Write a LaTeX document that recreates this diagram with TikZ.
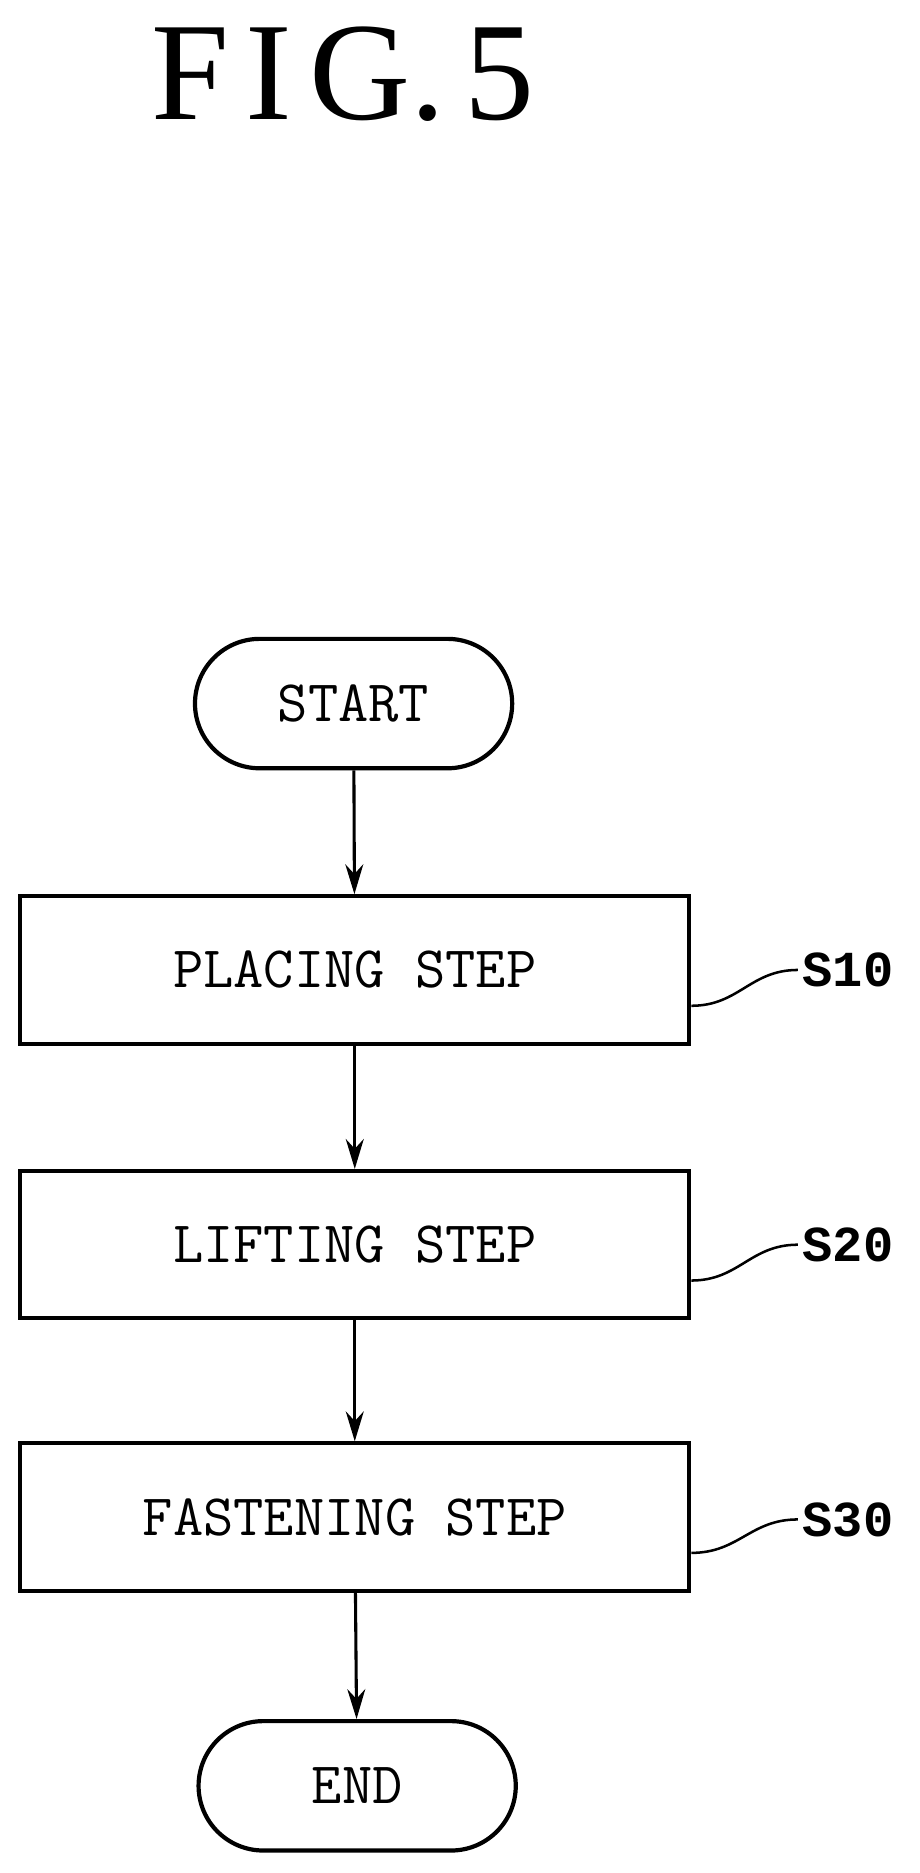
\documentclass[tikz,border=0pt]{standalone}
\usepackage{fontspec}
\setmainfont{Liberation Serif}
\newfontfamily\tagfont{Liberation Mono}
\usetikzlibrary{shapes.misc,arrows.meta}
\begin{document}
\begin{tikzpicture}[x=0.03cm,y=-0.03cm,
   stepbox/.style={rectangle,draw,line width=3pt,minimum width=16.8cm,
    minimum height=3.7cm,font=\ttfamily\fontsize{42}{46}\selectfont},
   term/.style={rounded rectangle,draw,line width=3pt,minimum width=8.2cm,
    minimum height=3.25cm,font=\ttfamily\fontsize{42}{46}\selectfont},
   tag/.style={font=\tagfont\bfseries\fontsize{36}{40}\selectfont},
   flow/.style={-{Stealth[length=0.75cm,width=0.45cm]},line width=2.2pt}
    ]
    \useasboundingbox (0,0) rectangle (770,1568);

    % Title:
    \node at (287,62) (title) {\fontsize{100}{110}\selectfont F\kern12pt I\kern12pt G.\kern14pt 5};

    % Nodes:
    \node[term] at (296,589) (start) {START};
    \node[stepbox] at (297,812) (s10) {PLACING STEP};
    \node[stepbox] at (297,1042) (s20) {LIFTING STEP};
    \node[stepbox] at (297,1270) (s30) {FASTENING STEP};
    \node[term] at (299,1495) (end) {END};

    % Labels:
    \node[tag] at (710,812) (l10) {S10};
    \node[tag] at (710,1042) (l20) {S20};
    \node[tag] at (710,1272) (l30) {S30};

    % Arrows:
    \draw[flow] (start) -- (s10);
    \draw[flow] (s10) -- (s20);
    \draw[flow] (s20) -- (s30);
    \draw[flow] (s30) -- (end);

    % Leaders:
    \draw[line width=1.8pt] ([yshift=-0.9cm]s10.east) .. controls +(40,0) and +(-40,0) .. (l10.west);
    \draw[line width=1.8pt] ([yshift=-0.9cm]s20.east) .. controls +(40,0) and +(-40,0) .. (l20.west);
    \draw[line width=1.8pt] ([yshift=-0.9cm]s30.east) .. controls +(40,0) and +(-40,0) .. (l30.west);

\end{tikzpicture}
\end{document}
